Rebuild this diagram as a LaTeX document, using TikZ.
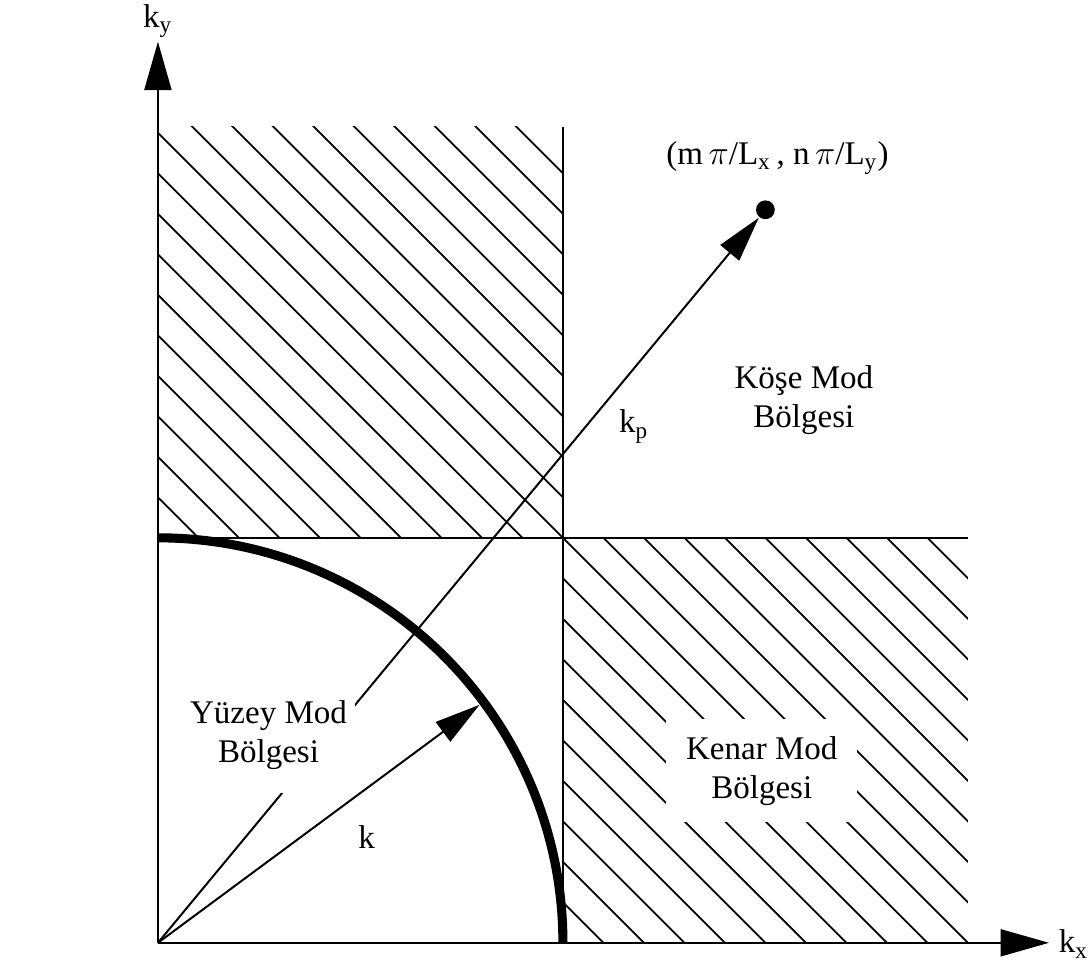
\documentclass[tikz,border=0pt]{standalone}
\usepackage{fontspec}
\setmainfont{Liberation Serif}
\usetikzlibrary{positioning, arrows.meta}

\begin{document}
\begin{tikzpicture}[x=0.5cm, y=0.5cm, line width=0.7pt, font=\fontsize{11.6}{13.7}\selectfont]
				\tikzstyle{axis}=[-{Triangle[length=17pt,width=9.5pt]}]
				\tikzstyle{vec}=[-{Triangle[length=16pt,width=8.5pt]}]
				\tikzstyle{hatch}=[line width=0.6pt]
				\tikzstyle{region}=[align=center]
				\tikzstyle{lbl}=[inner sep=1pt]
				
				\useasboundingbox (-3.9,-0.54) rectangle (22.99,23.28);
				
				% Points
				\coordinate (O) at (0,0);
				\coordinate (X) at (22,0);
				\coordinate (Y) at (0,22.25);
				\coordinate (Cb) at (10,0);
				\coordinate (Ct) at (10,20.15);
				\coordinate (Hl) at (0,10);
				\coordinate (Hr) at (20,10);
				\coordinate (K) at (36.5:9.88);
				
				% Hatching
				\begin{scope}
				\clip (0,10) rectangle (10,20.15);
				\foreach \c in {11,...,29}
				\draw[hatch] (\c,0) -- (0,\c);
				\end{scope}
				\begin{scope}
				\clip (10,0) rectangle (20,10);
				\foreach \c in {11,...,29}
				\draw[hatch] (\c,0) -- (0,\c);
				\end{scope}
				
				% Region borders
				\draw (Cb) -- (Ct);
				\draw (Hl) -- (Hr);
				\draw[line width=3.2pt] (Cb) arc[start angle=0, end angle=90, radius=10];
				
				% Axes
				\draw[axis] (O) -- (X);
				\draw[axis] (O) -- (Y);
				\node[lbl, anchor=south] (ky) at (Y) {k\textsubscript{y}};
				\node[lbl, anchor=base west] (kx) at (22.15,-0.25) {k\textsubscript{x}};
				
				% Vectors
				\node[circle, fill, inner sep=0pt, minimum size=6.6pt] (P) at (15,18.1) {};
				\draw[vec] (O) -- (K);
				\draw[vec] (O) -- (P);
				\node (kp) at (11.75,12.75) {k\textsubscript{p}};
				\node (kk) at (5.15,2.6) {k};
				\node (mn) at (15.3,19.38) {(m\,$\pi$/L\textsubscript{x}\,, n\,$\pi$/L\textsubscript{y})};
				
				% Regions
				\node[region] (kose) at (15.95,13.4) {Köşe Mod\\Bölgesi};
				\node[region, fill=white, inner xsep=3pt, inner ysep=8pt] (yuzey) at (2.73,5.12) {Yüzey Mod\\Bölgesi};
				\node[region, fill=white, inner xsep=7pt, inner ysep=6pt] (kenar) at (14.91,4.25) {Kenar Mod\\Bölgesi};
			\end{tikzpicture}
\end{document}
